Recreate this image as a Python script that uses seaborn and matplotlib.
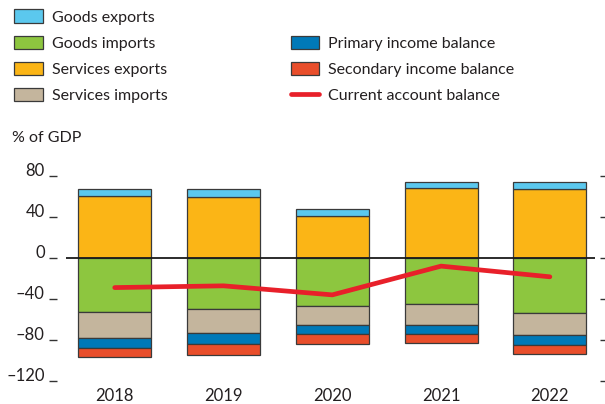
import numpy as np
import matplotlib
matplotlib.use("Agg")
import matplotlib.pyplot as plt
import seaborn as sns
from matplotlib.patches import Patch
from matplotlib.lines import Line2D

# data (% of GDP)
years = ["2018", "2019", "2020", "2021", "2022"]
services_exports = [60.6, 59.9, 40.7, 68.4, 67.8]
goods_exports = [7.2, 7.2, 6.9, 5.5, 6.5]
goods_imports = [-52.8, -49.8, -46.3, -45.0, -53.1]
services_imports = [-25.4, -23.5, -19.2, -20.5, -22.1]
primary_income = [-9.4, -10.7, -8.8, -8.8, -9.8]
secondary_income = [-9.1, -10.5, -9.7, -8.1, -8.2]
current_account = [-28.7, -27.0, -35.8, -7.8, -18.2]

col_ge = "#5bc8ee"
col_gi = "#8dc63f"
col_se = "#fbb516"
col_si = "#c4b59d"
col_pi = "#0079b8"
col_sec = "#e94e2b"
col_ca = "#e8202a"
edge = "#3a3a3a"
txt = "#231f20"

sns.set_style("white")
plt.rcParams['font.family'] = ['Lato', 'DejaVu Sans']
plt.rcParams['text.color'] = txt

fig = plt.figure(figsize=(6.05, 4.04), dpi=100)
ax = fig.add_axes([66 / 605, (404 - 381.3) / 404, (595 - 66) / 605, (381.3 - 176) / 404])

x = np.arange(len(years))
w = 0.67
bar_kw = dict(width=w, edgecolor=edge, linewidth=0.9, zorder=2)

# positive stack
ax.bar(x, services_exports, color=col_se, **bar_kw)
ax.bar(x, goods_exports, bottom=services_exports, color=col_ge, **bar_kw)

# negative stack
neg = np.zeros(len(years))
for vals, c in [(goods_imports, col_gi), (services_imports, col_si),
                (primary_income, col_pi), (secondary_income, col_sec)]:
    ax.bar(x, vals, bottom=neg, color=c, **bar_kw)
    neg = neg + np.array(vals)

ax.axhline(0, color="#1a1a1a", lw=1.3, zorder=3)
sns.lineplot(x=x, y=current_account, color=col_ca, lw=3.4, ax=ax, zorder=4)

ax.set_xlim(-0.448, 4.415)
ax.set_ylim(-120, 80)
ax.set_yticks([-120, -80, -40, 0, 40, 80])
ax.set_yticklabels(["\u2013120", "\u201380", "\u201340", "0", "40", "80"])
ax.set_xticks(x)
ax.set_xticklabels(years)

for s in ["top", "bottom"]:
    ax.spines[s].set_visible(False)
ax.spines["left"].set_position(("outward", 9 * 0.72))
ax.spines["right"].set_position(("outward", 5 * 0.72))
ax.spines["left"].set_color("none")
ax.spines["right"].set_color("none")

ax.tick_params(axis="y", left=True, right=True, length=8 * 0.72, width=1.0,
               color="#333333", labelsize=12, labelcolor=txt, pad=3)
ax.tick_params(axis="x", bottom=False, length=0, labelsize=12, labelcolor=txt, pad=5)
for lab in ax.get_yticklabels():
    lab.set_verticalalignment("baseline")

fig.text(12 / 605, 1 - 138 / 404, "% of GDP", fontsize=11.5, va="center", ha="left")

handles = [
    Patch(facecolor=col_ge, edgecolor=edge, lw=0.9),
    Patch(facecolor=col_gi, edgecolor=edge, lw=0.9),
    Patch(facecolor=col_se, edgecolor=edge, lw=0.9),
    Patch(facecolor=col_si, edgecolor=edge, lw=0.9),
    Patch(facecolor="none", edgecolor="none"),
    Patch(facecolor=col_pi, edgecolor=edge, lw=0.9),
    Patch(facecolor=col_sec, edgecolor=edge, lw=0.9),
    Line2D([0], [0], color=col_ca, lw=3.4),
]
labels = ["Goods exports", "Goods imports", "Services exports", "Services imports",
          "", "Primary income balance", "Secondary income balance", "Current account balance"]
fig.legend(handles, labels, ncol=2, loc="upper left", bbox_to_anchor=(8 / 605, 1 - 3 / 404),
           frameon=False, fontsize=11.5, handlelength=1.8, handleheight=0.9,
           handletextpad=0.55, labelspacing=0.69, columnspacing=7.7, borderaxespad=0)

fig.savefig("out.png", dpi=100)
